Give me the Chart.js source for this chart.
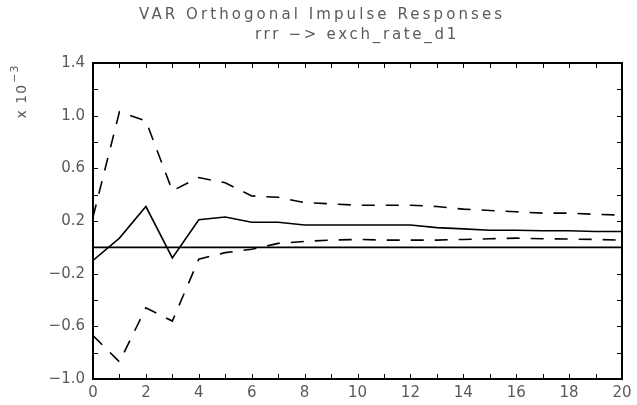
<!DOCTYPE html>
<html>
<head>
<meta charset="utf-8">
<style>
html,body{margin:0;padding:0;background:#fff;}
#wrap{width:637px;height:405px;}
</style>
<script src="https://cdn.jsdelivr.net/npm/chart.js@4"></script>
</head>
<body>
<div id="wrap"><canvas id="c" width="637" height="405"></canvas></div>
<script>
// ---- data (units of 10^-3) ----
const steps      = [0,1,2,3,4,5,6,7,8,9,10,11,12,13,14,15,16,17,18,19,20];
const response   = [-0.10, 0.07, 0.31, -0.08, 0.21, 0.23, 0.19, 0.19, 0.17, 0.17, 0.17, 0.17, 0.17, 0.15, 0.14, 0.13, 0.13, 0.126, 0.126, 0.12, 0.12];
const upperBand  = [0.23, 1.03, 0.96, 0.43, 0.53, 0.49, 0.39, 0.38, 0.34, 0.33, 0.32, 0.32, 0.32, 0.31, 0.29, 0.28, 0.27, 0.26, 0.26, 0.25, 0.245];
const lowerBand  = [-0.67, -0.87, -0.46, -0.56, -0.09, -0.04, -0.015, 0.03, 0.045, 0.055, 0.06, 0.055, 0.055, 0.055, 0.06, 0.065, 0.07, 0.065, 0.063, 0.06, 0.055];
const zeroLine   = [0, 0];
const zeroSteps  = [0, 20];
const yTickMin = -1.0, yTickMax = 1.4, yTickStep = 0.2;
const xTickMin = 0, xTickMax = 20, xTickStep = 1;
const titleText = 'VAR Orthogonal Impulse Responses';
const subtitleText = 'rrr \u2212> exch_rate_d1';
const yTitleBase = 'x 10';
const yTitleExp = '\u22123';

const FONT = '"DejaVu Sans", sans-serif';
const TXT = '#5a5a5a';

const pts = (xs, ys) => xs.map((x, i) => ({x: x, y: ys[i]}));

const decor = {
  id: 'decor',
  afterDraw(chart) {
    const ctx = chart.ctx, a = chart.chartArea;
    const xs = chart.scales.x, ys = chart.scales.y;
    ctx.save();
    // inward ticks
    ctx.strokeStyle = '#000';
    ctx.lineWidth = 1;
    ctx.beginPath();
    for (let i = 0; ; i++) {
      const v = yTickMin + i * yTickStep;
      if (v > yTickMax + 1e-9) break;
      const p = Math.round(ys.getPixelForValue(v)) + 0.5;
      ctx.moveTo(a.left, p); ctx.lineTo(a.left + 5, p);
      ctx.moveTo(a.right, p); ctx.lineTo(a.right - 5, p);
    }
    for (let v = xTickMin; v <= xTickMax; v += xTickStep) {
      const p = Math.round(xs.getPixelForValue(v)) + 0.5;
      ctx.moveTo(p, a.top); ctx.lineTo(p, a.top + 5);
      ctx.moveTo(p, a.bottom); ctx.lineTo(p, a.bottom - 5);
    }
    ctx.stroke();
    // box
    ctx.lineWidth = 2;
    ctx.strokeRect(a.left, a.top, a.right - a.left, a.bottom - a.top);

    // titles
    ctx.fillStyle = TXT;
    ctx.textBaseline = 'middle';
    ctx.textAlign = 'left';
    const spaced = (text, font, left, right, y) => {
      ctx.font = font;
      ctx.letterSpacing = '0px';
      const w = ctx.measureText(text).width;
      const sp = (right - left - w) / text.length;
      ctx.letterSpacing = sp.toFixed(2) + 'px';
      ctx.fillText(text, left, y);
      ctx.letterSpacing = '0px';
    };
    spaced(titleText, '15px ' + FONT, 139, 505, 15);
    spaced(subtitleText, '15px ' + FONT, 255, 459, 35);

    // y-axis title (rotated)
    ctx.translate(20, 92);
    ctx.rotate(-Math.PI / 2);
    ctx.font = '14px ' + FONT;
    ctx.letterSpacing = '1px';
    const wb = ctx.measureText(yTitleBase).width;
    ctx.font = '11px ' + FONT;
    const we = ctx.measureText(yTitleExp).width;
    const start = -(wb + we) / 2;
    ctx.font = '14px ' + FONT;
    ctx.fillText(yTitleBase, start, 2);
    ctx.font = '11px ' + FONT;
    ctx.fillText(yTitleExp, start + wb + 1, -5);
    ctx.restore();
  }
};

new Chart(document.getElementById('c'), {
  type: 'line',
  data: {
    datasets: [
      { data: pts(zeroSteps, zeroLine), borderColor: '#000', borderWidth: 1.6, pointRadius: 0 },
      { data: pts(steps, response), borderColor: '#000', borderWidth: 1.6, pointRadius: 0, tension: 0 },
      { data: pts(steps, upperBand), borderColor: '#000', borderWidth: 1.6, borderDash: [13, 11], pointRadius: 0, tension: 0 },
      { data: pts(steps, lowerBand), borderColor: '#000', borderWidth: 1.6, borderDash: [13, 11], pointRadius: 0, tension: 0 }
    ]
  },
  options: {
    responsive: false,
    animation: false,
    devicePixelRatio: 1,
    layout: { padding: { top: 63, right: 15, bottom: 0, left: 0 } },
    plugins: { legend: { display: false }, tooltip: { enabled: false }, title: { display: false } },
    scales: {
      x: {
        type: 'linear', min: xTickMin, max: xTickMax,
        grid: { display: false, drawTicks: false },
        border: { display: false },
        ticks: {
          stepSize: xTickStep, autoSkip: false, maxRotation: 0, padding: 5,
          color: TXT, font: { family: FONT, size: 15 },
          callback: v => (Math.round(v) % 2 === 0 ? String(Math.round(v)) : '')
        },
        afterFit: s => { s.height = 26; }
      },
      y: {
        min: yTickMin, max: yTickMax,
        grid: { display: false, drawTicks: false },
        border: { display: false },
        ticks: {
          stepSize: yTickStep, autoSkip: false, padding: 8,
          color: TXT, font: { family: FONT, size: 15 },
          callback: v => {
            const k = Math.round((v - yTickMin) / yTickStep);
            if (k % 2 !== 0) return '';
            const val = yTickMin + k * yTickStep;
            const s = Math.abs(val).toFixed(1);
            return val < 0 ? '\u2212' + s : s;
          }
        },
        afterFit: s => { s.width = 93; }
      }
    }
  },
  plugins: [decor]
});
</script>
</body>
</html>
